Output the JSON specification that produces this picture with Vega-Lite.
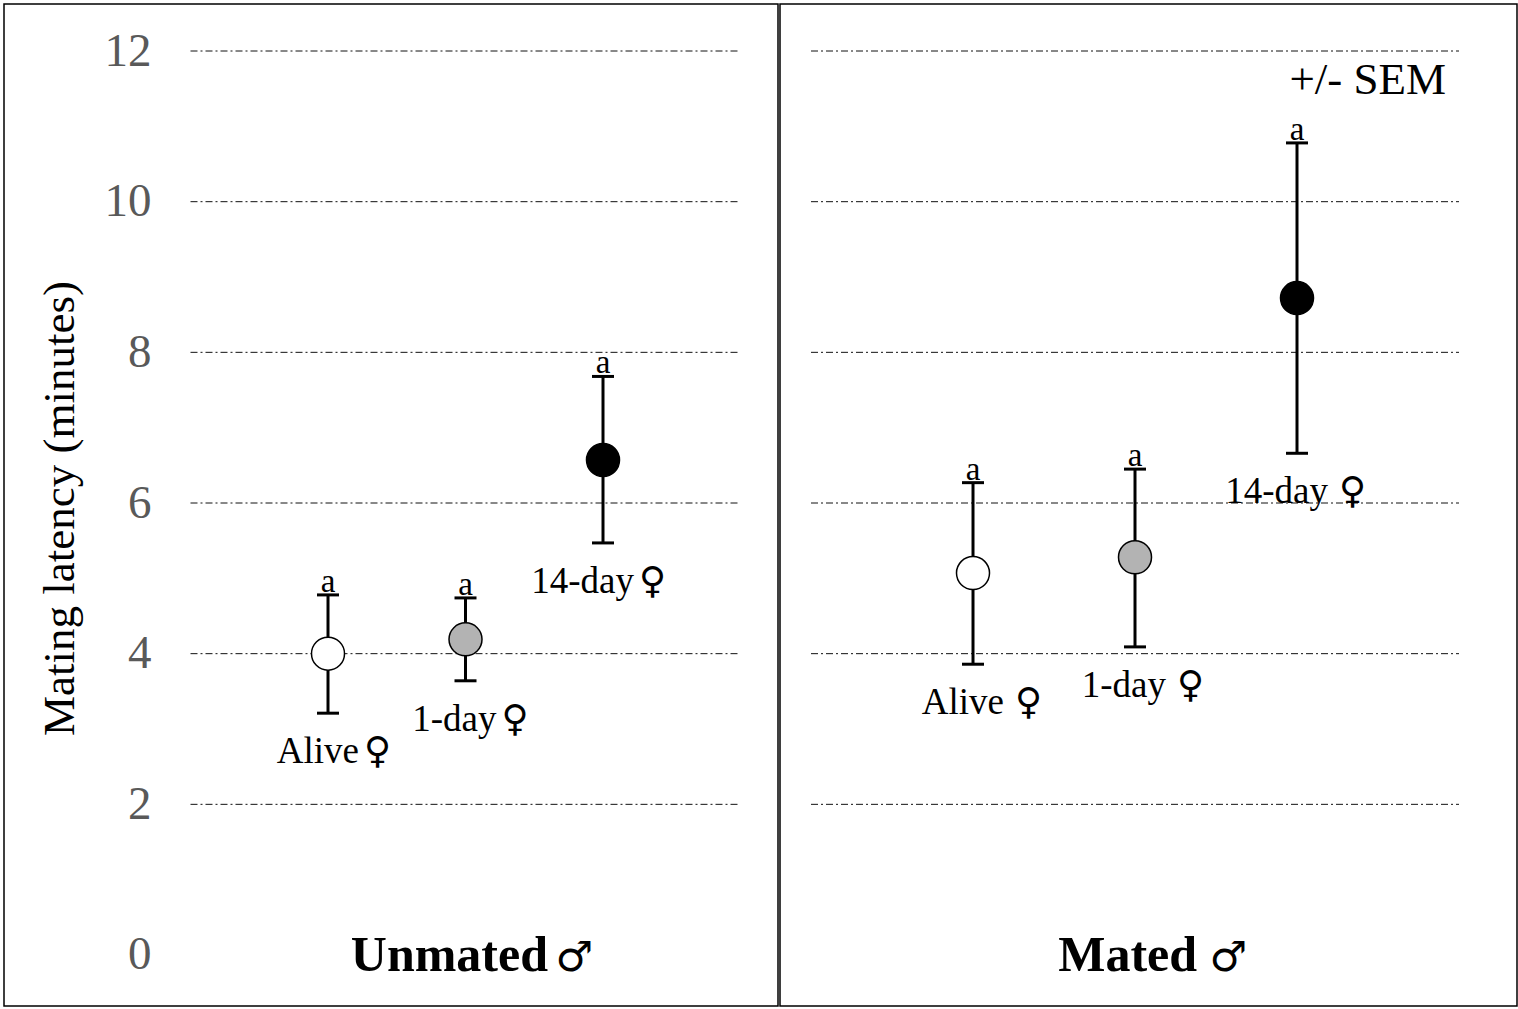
{
  "$schema": "https://vega.github.io/schema/vega-lite/v6.json",
  "padding": {"left": 3, "top": 3, "right": 0, "bottom": 0},
  "autosize": {"type": "pad"},
  "background": "white",
  "config": {
    "view": {"stroke": "black", "strokeWidth": 1.5},
    "text": {"font": "Liberation Serif"},
    "concat": {"spacing": 0}
  },
  "datasets": {
    "pts": [
      {"group": "Unmated", "female": "Alive", "idx": 1, "mean": 4.0, "lo": 3.21, "hi": 4.78, "name": "Alive", "sym": "♀"},
      {"group": "Unmated", "female": "1-day", "idx": 2, "mean": 4.19, "lo": 3.64, "hi": 4.74, "name": "1-day", "sym": "♀"},
      {"group": "Unmated", "female": "14-day", "idx": 3, "mean": 6.57, "lo": 5.47, "hi": 7.68, "name": "14-day", "sym": "♀"},
      {"group": "Mated", "female": "Alive", "idx": 1, "mean": 5.07, "lo": 3.86, "hi": 6.27, "name": "Alive", "sym": "♀"},
      {"group": "Mated", "female": "1-day", "idx": 2, "mean": 5.28, "lo": 4.09, "hi": 6.45, "name": "1-day", "sym": "♀"},
      {"group": "Mated", "female": "14-day", "idx": 3, "mean": 8.72, "lo": 6.66, "hi": 10.78, "name": "14-day", "sym": "♀"}
    ],
    "grid": [{"v": 2}, {"v": 4}, {"v": 6}, {"v": 8}, {"v": 10}, {"v": 12}],
    "titles": [
      {"panel": "Unmated", "title": "Unmated", "sym": "♂"},
      {"panel": "Mated", "title": "Mated", "sym": "♂"}
    ]
  },
  "hconcat": [
    {
      "width": 774,
      "height": 1002,
      "layer": [
        {
          "data": {"name": "grid"},
          "mark": {"type": "rule", "stroke": "#111111", "strokeWidth": 1, "strokeDash": [7, 3, 2, 3]},
          "encoding": {
            "x": {"datum": 0, "type": "quantitative", "scale": {"domain": [-1.3564, 4.2727], "nice": false, "zero": false}, "axis": null},
            "x2": {"datum": 4},
            "y": {
              "field": "v", "type": "quantitative",
              "scale": {"domain": [-0.677, 12.624], "nice": false, "zero": false},
              "axis": {
                "values": [0, 2, 4, 6, 8, 10, 12], "format": "d",
                "offset": -147, "ticks": false, "domain": false, "grid": false,
                "labelPadding": 0, "labelFont": "Liberation Serif", "labelFontSize": 47, "labelColor": "#595959",
                "title": "Mating latency (minutes)", "titleFont": "Liberation Serif", "titleFontSize": 45,
                "titleFontWeight": "normal", "titleColor": "black", "titleAngle": -90,
                "titleX": -78, "titleY": 504, "titleAlign": "center", "titleBaseline": "alphabetic"
              }
            }
          }
        },
        {
          "data": {"name": "pts"},
          "transform": [{"filter": "datum.group === 'Unmated'"}],
          "layer": [
            {"mark": {"type": "rule", "stroke": "black", "strokeWidth": 3}, "encoding": {"x": {"field": "idx", "type": "quantitative"}, "y": {"field": "lo", "type": "quantitative"}, "y2": {"field": "hi"}}},
            {"mark": {"type": "tick", "orient": "horizontal", "size": 22, "thickness": 3, "color": "black", "opacity": 1}, "encoding": {"x": {"field": "idx", "type": "quantitative"}, "y": {"field": "lo", "type": "quantitative"}}},
            {"mark": {"type": "tick", "orient": "horizontal", "size": 22, "thickness": 3, "color": "black", "opacity": 1}, "encoding": {"x": {"field": "idx", "type": "quantitative"}, "y": {"field": "hi", "type": "quantitative"}}},
            {"mark": {"type": "point", "shape": "circle", "filled": true, "size": 1090, "stroke": "black", "strokeWidth": 1.5, "opacity": 1}, "encoding": {"x": {"field": "idx", "type": "quantitative"}, "y": {"field": "mean", "type": "quantitative"}, "fill": {"field": "female", "type": "nominal", "scale": {"domain": ["Alive", "1-day", "14-day"], "range": ["white", "#b3b3b3", "black"]}, "legend": null}}},
            {"mark": {"type": "text", "fontSize": 33, "baseline": "alphabetic", "dy": -3, "color": "black"}, "encoding": {"x": {"field": "idx", "type": "quantitative"}, "y": {"field": "hi", "type": "quantitative"}, "text": {"value": "a"}}},
            {"mark": {"type": "text", "fontSize": 37, "align": "right", "baseline": "alphabetic", "dx": 31, "dy": 50, "color": "black"}, "encoding": {"x": {"field": "idx", "type": "quantitative"}, "y": {"field": "lo", "type": "quantitative"}, "text": {"field": "name"}}},
            {"mark": {"type": "text", "font": "DejaVu Sans", "fontSize": 37, "align": "left", "baseline": "alphabetic", "dx": 36, "dy": 50, "color": "black"}, "encoding": {"x": {"field": "idx", "type": "quantitative"}, "y": {"field": "lo", "type": "quantitative"}, "text": {"field": "sym"}}}
          ]
        },
        {
          "data": {"name": "titles"},
          "transform": [{"filter": "datum.panel === 'Unmated'"}],
          "layer": [
            {"mark": {"type": "text", "fontSize": 50, "fontWeight": "bold", "align": "right", "baseline": "alphabetic", "color": "black"},
             "encoding": {"x": {"datum": 2.6, "type": "quantitative"}, "y": {"datum": -0.21, "type": "quantitative"}, "text": {"field": "title"}}},
            {"mark": {"type": "text", "font": "DejaVu Sans", "fontSize": 42, "align": "left", "baseline": "alphabetic", "color": "black"},
             "encoding": {"x": {"datum": 2.655, "type": "quantitative"}, "y": {"datum": -0.21, "type": "quantitative"}, "text": {"field": "sym"}}}
          ]
        }
      ]
    },
    {
      "width": 737,
      "height": 1002,
      "layer": [
        {
          "data": {"name": "grid"},
          "mark": {"type": "rule", "stroke": "#111111", "strokeWidth": 1, "strokeDash": [7, 3, 2, 3]},
          "encoding": {
            "x": {"datum": 0, "type": "quantitative", "scale": {"domain": [-0.1914, 4.358], "nice": false, "zero": false}, "axis": null},
            "x2": {"datum": 4},
            "y": {"field": "v", "type": "quantitative", "scale": {"domain": [-0.677, 12.624], "nice": false, "zero": false}, "axis": null}
          }
        },
        {
          "data": {"name": "pts"},
          "transform": [{"filter": "datum.group === 'Mated'"}],
          "layer": [
            {"mark": {"type": "rule", "stroke": "black", "strokeWidth": 3}, "encoding": {"x": {"field": "idx", "type": "quantitative"}, "y": {"field": "lo", "type": "quantitative"}, "y2": {"field": "hi"}}},
            {"mark": {"type": "tick", "orient": "horizontal", "size": 22, "thickness": 3, "color": "black", "opacity": 1}, "encoding": {"x": {"field": "idx", "type": "quantitative"}, "y": {"field": "lo", "type": "quantitative"}}},
            {"mark": {"type": "tick", "orient": "horizontal", "size": 22, "thickness": 3, "color": "black", "opacity": 1}, "encoding": {"x": {"field": "idx", "type": "quantitative"}, "y": {"field": "hi", "type": "quantitative"}}},
            {"mark": {"type": "point", "shape": "circle", "filled": true, "size": 1090, "stroke": "black", "strokeWidth": 1.5, "opacity": 1}, "encoding": {"x": {"field": "idx", "type": "quantitative"}, "y": {"field": "mean", "type": "quantitative"}, "fill": {"field": "female", "type": "nominal", "scale": {"domain": ["Alive", "1-day", "14-day"], "range": ["white", "#b3b3b3", "black"]}, "legend": null}}},
            {"mark": {"type": "text", "fontSize": 33, "baseline": "alphabetic", "dy": -3, "color": "black"}, "encoding": {"x": {"field": "idx", "type": "quantitative"}, "y": {"field": "hi", "type": "quantitative"}, "text": {"value": "a"}}},
            {"mark": {"type": "text", "fontSize": 37, "align": "right", "baseline": "alphabetic", "dx": 31, "dy": 50, "color": "black"}, "encoding": {"x": {"field": "idx", "type": "quantitative"}, "y": {"field": "lo", "type": "quantitative"}, "text": {"field": "name"}}},
            {"mark": {"type": "text", "font": "DejaVu Sans", "fontSize": 37, "align": "left", "baseline": "alphabetic", "dx": 42, "dy": 50, "color": "black"}, "encoding": {"x": {"field": "idx", "type": "quantitative"}, "y": {"field": "lo", "type": "quantitative"}, "text": {"field": "sym"}}}
          ]
        },
        {
          "data": {"name": "titles"},
          "transform": [{"filter": "datum.panel === 'Mated'"}],
          "layer": [
            {"mark": {"type": "text", "fontSize": 50, "fontWeight": "bold", "align": "right", "baseline": "alphabetic", "color": "black"},
             "encoding": {"x": {"datum": 2.383, "type": "quantitative"}, "y": {"datum": -0.21, "type": "quantitative"}, "text": {"field": "title"}}},
            {"mark": {"type": "text", "font": "DejaVu Sans", "fontSize": 42, "align": "left", "baseline": "alphabetic", "color": "black"},
             "encoding": {"x": {"datum": 2.46, "type": "quantitative"}, "y": {"datum": -0.21, "type": "quantitative"}, "text": {"field": "sym"}}}
          ]
        },
        {
          "data": {"values": [{"note": "+/- SEM"}]},
          "mark": {"type": "text", "fontSize": 45, "align": "right", "baseline": "alphabetic", "color": "black"},
          "encoding": {"x": {"datum": 3.92, "type": "quantitative"}, "y": {"datum": 11.43, "type": "quantitative"}, "text": {"field": "note"}}
        }
      ]
    }
  ]
}
